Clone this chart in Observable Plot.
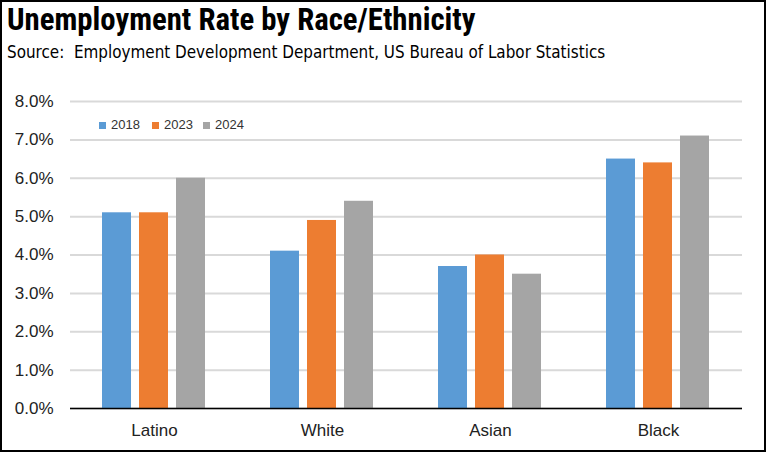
<!DOCTYPE html>
<html><head><meta charset="utf-8">
<script src="https://cdn.jsdelivr.net/npm/d3@7"></script>
<script src="https://cdn.jsdelivr.net/npm/@observablehq/plot@0.6"></script>
<style>
body{margin:0;background:#fff;}
#wrap{position:relative;width:766px;height:452px;overflow:hidden;background:#fff;}
#frame{position:absolute;left:0;top:0;width:766px;height:452px;box-sizing:border-box;border:2px solid #000;pointer-events:none;}
#title{position:absolute;left:7px;top:4px;font-family:"Roboto Condensed","Liberation Sans Narrow",sans-serif;font-weight:bold;font-size:30.8px;line-height:31px;color:#000;white-space:nowrap;}
#sub{position:absolute;left:7px;top:42px;font-family:"DejaVu Sans Condensed",sans-serif;font-size:16.9px;line-height:20px;color:#000;white-space:pre;}
#chart{position:absolute;left:0;top:80px;}
#legend{position:absolute;left:0;top:0;font-family:"Liberation Sans","Arial",sans-serif;font-size:13px;color:#333;}
.li{position:absolute;white-space:nowrap;line-height:14px;}
.sw{position:absolute;width:7px;height:7px;}
</style></head><body>
<div id="wrap">
<div id="title">Unemployment Rate by Race/Ethnicity</div>
<div id="sub">Source:  Employment Development Department, US Bureau of Labor Statistics</div>
<div id="chart"></div>
<div id="legend"></div>
<div id="frame"></div>
</div>
<script>
const categories = ["Latino", "White", "Asian", "Black"];
const years = ["2018", "2023", "2024"];
const v2018 = [5.1, 4.1, 3.7, 6.5];
const v2023 = [5.1, 4.9, 4.0, 6.4];
const v2024 = [6.0, 5.4, 3.5, 7.1];
const colors = ["#5B9BD5", "#ED7D31", "#A5A5A5"];
const yTicks = [0, 1, 2, 3, 4, 5, 6, 7, 8];

const series = {"2018": v2018, "2023": v2023, "2024": v2024};
const data = categories.flatMap((c, i) => years.map(y => ({cat: c, year: y, v: series[y][i]})));

const chart = Plot.plot({
  width: 766,
  height: 360,
  marginLeft: 70,
  marginRight: 24,
  marginTop: 21,
  marginBottom: 32,
  style: {fontFamily: "'Liberation Sans', Arial, sans-serif", background: "transparent"},
  fx: {domain: categories, padding: 0, label: null},
  x: {domain: years, paddingInner: 0.216, paddingOuter: 0.875, axis: null},
  y: {domain: [0, 8], axis: null},
  color: {domain: years, range: colors},
  marks: [
    Plot.gridY(yTicks, {stroke: "#D9D9D9", strokeWidth: 2, strokeOpacity: 1}),
    Plot.barY(data, {fx: "cat", x: "year", y: "v", fill: "year"}),
    Plot.ruleY([0], {stroke: "#000", strokeWidth: 1.5}),
    Plot.axisY(yTicks, {tickFormat: d => d.toFixed(1) + "%", tickSize: 0, tickPadding: 17, fontSize: 17, fill: "#222", label: null}),
    Plot.axisFx({anchor: "bottom", tickSize: 0, tickPadding: 15, fontSize: 17, fill: "#222", label: null})
  ]
});
document.getElementById("chart").appendChild(chart);

const legend = document.getElementById("legend");
const legX = [99, 152, 203];
years.forEach((y, i) => {
  const sw = document.createElement("div");
  sw.className = "sw";
  sw.style.left = legX[i] + "px";
  sw.style.top = "122px";
  sw.style.background = colors[i];
  legend.appendChild(sw);
  const t = document.createElement("div");
  t.className = "li";
  t.style.left = (legX[i] + 12) + "px";
  t.style.top = "118px";
  t.textContent = y;
  legend.appendChild(t);
});
</script>
</body></html>
